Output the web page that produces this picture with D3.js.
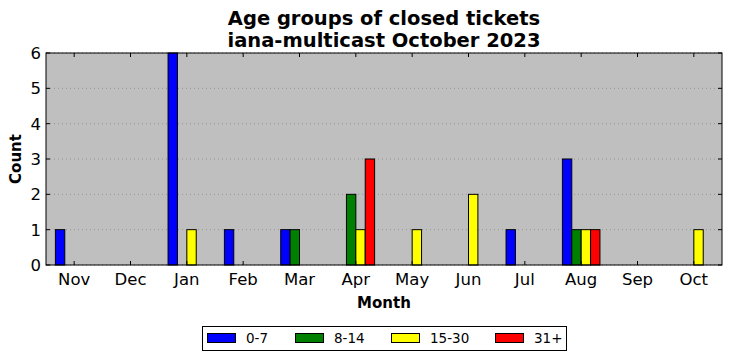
<!DOCTYPE html>
<html><head><meta charset="utf-8">
<script src="https://cdn.jsdelivr.net/npm/d3@7"></script>
<style>body{margin:0;background:#fff;} text{font-family:"DejaVu Sans",sans-serif;}</style>
</head><body>
<svg id="c" width="732" height="361"></svg>
<script>
const months = ["Nov","Dec","Jan","Feb","Mar","Apr","May","Jun","Jul","Aug","Sep","Oct"];
const groups = ["0-7","8-14","15-30","31+"];
const colors = ["#0000ff","#008000","#ffff00","#ff0000"];
const s0_7   = [1,0,6,1,1,0,0,0,1,3,0,0];
const s8_14  = [0,0,0,0,1,2,0,0,0,1,0,0];
const s15_30 = [0,0,1,0,0,1,1,2,0,1,0,1];
const s31    = [0,0,0,0,0,3,0,0,0,1,0,0];
const yTicks = [0,1,2,3,4,5,6];
const series = [s0_7,s8_14,s15_30,s31];

const svg = d3.select("#c");
const L=46,R=722,T=53,B=265;
const x = d3.scaleBand().domain(months).range([L,R]);
const y = d3.scaleLinear().domain([0,6]).range([B,T]);
const bw = x.bandwidth()/6;

svg.append("rect").attr("x",L).attr("y",T).attr("width",R-L).attr("height",B-T).attr("fill","#bfbfbf");
// grid
svg.append("g").selectAll("line").data(yTicks).join("line")
  .attr("x1",L).attr("x2",R).attr("y1",d=>y(d)).attr("y2",d=>y(d))
  .attr("stroke","#8a8a8a").attr("stroke-width",0.8).attr("stroke-dasharray","1,3");

// bars
series.forEach((s,i)=>{
  svg.append("g").selectAll("rect").data(s.map((v,j)=>({m:months[j],v}))).join("rect")
    .attr("x",d=>x(d.m)+bw*(1+i))
    .attr("y",d=>y(d.v)-(d.v===0?1:0))
    .attr("width",bw)
    .attr("height",d=>B-y(d.v))
    .attr("fill",colors[i]).attr("stroke","#000").attr("stroke-width",1);
});

// frame
svg.append("rect").attr("x",L).attr("y",T).attr("width",R-L).attr("height",B-T).attr("fill","none").attr("stroke","#000").attr("stroke-width",1);

// ticks
const tg = svg.append("g");
months.forEach(m=>{
  const cx = x(m)+x.bandwidth()/2;
  tg.append("line").attr("x1",cx).attr("x2",cx).attr("y1",B).attr("y2",B-4).attr("stroke","#000");
  tg.append("line").attr("x1",cx).attr("x2",cx).attr("y1",T).attr("y2",T+4).attr("stroke","#000");
  tg.append("text").attr("x",cx).attr("y",285).attr("text-anchor","middle").attr("font-size",16.5).text(m);
});
yTicks.forEach(t=>{
  tg.append("line").attr("x1",L).attr("x2",L+4).attr("y1",y(t)).attr("y2",y(t)).attr("stroke","#000");
  tg.append("line").attr("x1",R).attr("x2",R-4).attr("y1",y(t)).attr("y2",y(t)).attr("stroke","#000");
  tg.append("text").attr("x",41).attr("y",y(t)+6).attr("text-anchor","end").attr("font-size",16.5).text(t);
});

// titles
svg.append("text").attr("x",384).attr("y",25).attr("text-anchor","middle").attr("font-size",19.5).attr("font-weight","bold").text("Age groups of closed tickets");
svg.append("text").attr("x",384).attr("y",47).attr("text-anchor","middle").attr("font-size",19.5).attr("font-weight","bold").text("iana-multicast October 2023");
svg.append("text").attr("x",384).attr("y",308).attr("text-anchor","middle").attr("font-size",15).attr("font-weight","bold").text("Month");
svg.append("text").attr("transform","translate(21,159) rotate(-90)").attr("text-anchor","middle").attr("font-size",15).attr("font-weight","bold").text("Count");

// legend
const lg = svg.append("g");
lg.append("rect").attr("x",202.5).attr("y",326.5).attr("width",364).attr("height",24).attr("fill","#fff").attr("stroke","#000");
const lx = [207,295,391,495];
groups.forEach((g,i)=>{
  lg.append("rect").attr("x",lx[i]+0.5).attr("y",333.5).attr("width",28).attr("height",9).attr("fill",colors[i]).attr("stroke","#000");
  lg.append("text").attr("x",lx[i]+39).attr("y",343).attr("font-size",13.5).text(g);
});
</script>
</body></html>
